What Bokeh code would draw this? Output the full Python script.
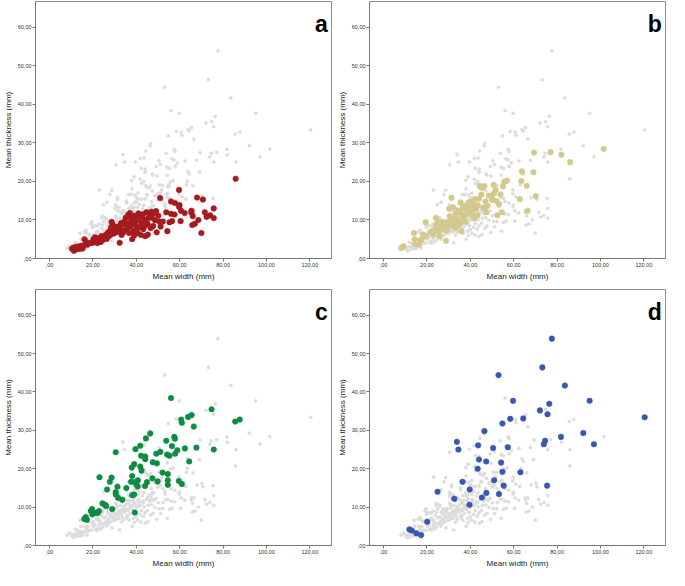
from bokeh.plotting import figure
from bokeh.layouts import gridplot
from bokeh.models import FixedTicker, Label, Range1d
from bokeh.embed import file_html
from bokeh.resources import INLINE

# ---------------- data (mean width, mean thickness in mm) ----------------
x_ticks = [0, 20, 40, 60, 80, 100, 120]
x_tick_labels = [",00", "20,00", "40,00", "60,00", "80,00", "100,00", "120,00"]
y_ticks = [0, 10, 20, 30, 40, 50, 60]
y_tick_labels = [",00", "10,00", "20,00", "30,00", "40,00", "50,00", "60,00"]

a_width = [10.3, 10.8, 11.2, 11.8, 12.5, 13.2, 14.0, 14.6, 15.2, 15.8, 16.1, 16.8, 17.5, 18.3, 19.5,
           20.2, 21.3, 22.3, 23.0, 23.6, 24.5, 25.3, 25.8, 26.4, 26.8, 27.3, 27.7, 28.2, 28.6, 28.3,
           29.1, 29.6, 30.1, 30.6, 31.2, 31.7, 32.3, 32.6, 33.2, 33.7, 34.2, 34.6, 35.1, 35.6, 36.2,
           36.2, 36.7, 37.2, 37.6, 38.1, 38.3, 38.7, 39.2, 39.6, 40.1, 40.6, 41.1, 41.6, 42.1, 42.3,
           42.6, 43.2, 43.6, 44.1, 44.6, 45.1, 45.3, 46.1, 46.6, 47.1, 47.7, 48.2, 48.6, 49.1, 49.4,
           50.1, 50.6, 51.0, 51.2, 52.2, 53.8, 54.3, 55.3, 56.0, 56.0, 56.5, 57.6, 57.8, 59.7, 59.7,
           59.9, 60.4, 60.6, 62.3, 65.4, 65.4, 65.8, 66.0, 67.0, 68.0, 68.6, 70.0, 70.7, 71.6, 72.4,
           74.0, 75.7, 75.7, 85.8, 30.5, 32.0, 34.0, 35.0, 36.0, 37.0, 38.5, 40.0, 41.0, 43.0, 45.5,
           47.0, 44.0, 39.0, 33.0, 29.0, 27.0, 24.0, 22.0, 21.0]
a_thick = [2.5, 2.8, 2.0, 3.0, 2.4, 3.1, 2.5, 3.3, 2.6, 3.4, 5.0, 4.3, 3.6, 4.0, 4.0,
           5.0, 4.2, 4.6, 5.3, 4.3, 4.8, 5.6, 6.1, 5.1, 6.6, 5.8, 7.1, 6.2, 9.5, 8.0,
           7.3, 6.5, 7.6, 6.8, 7.1, 7.9, 4.1, 8.6, 6.1, 7.3, 8.9, 9.6, 10.6, 7.6, 11.3,
           9.1, 6.6, 8.3, 10.1, 5.0, 9.4, 7.1, 11.1, 8.6, 9.9, 6.6, 10.4, 8.1, 6.1, 9.1,
           11.1, 7.6, 10.1, 5.8, 12.0, 9.1, 6.2, 11.6, 7.9, 10.6, 8.4, 11.8, 9.9, 12.3, 6.8,
           11.1, 9.6, 15.7, 8.3, 9.6, 12.0, 7.1, 9.4, 14.8, 11.6, 9.7, 11.4, 14.4, 17.8, 13.4,
           13.9, 9.7, 12.4, 11.8, 12.4, 11.9, 8.7, 11.0, 9.0, 15.8, 10.0, 6.6, 15.3, 12.0, 10.8,
           11.2, 13.0, 10.5, 20.7, 8.3, 7.0, 6.8, 9.0, 7.8, 11.8, 10.5, 7.5, 11.7, 11.5, 10.5,
           12.1, 8.5, 6.0, 9.2, 8.8, 6.2, 5.8, 4.0, 5.5]

b_width = [8.1, 9.2, 14.0, 14.3, 14.5, 16.2, 17.0, 17.7, 18.2, 19.4, 19.5, 22.2, 22.9, 24.1, 24.4,
           25.1, 25.8, 26.6, 27.3, 28.0, 28.8, 29.5, 30.3, 31.0, 31.3, 31.8, 32.0, 32.5, 33.2, 33.2,
           33.9, 34.7, 35.0, 35.5, 35.9, 36.2, 36.9, 37.7, 38.1, 38.4, 39.1, 39.9, 40.6, 40.9, 41.4,
           41.8, 42.1, 42.8, 43.3, 44.3, 44.8, 45.8, 46.5, 45.1, 46.8, 47.3, 48.0, 48.5, 49.8, 50.7,
           51.0, 51.7, 52.1, 52.4, 53.2, 53.9, 54.6, 55.1, 55.7, 56.9, 62.8, 63.5, 63.8, 66.0, 66.5,
           69.1, 69.4, 70.2, 77.0, 82.0, 86.0, 101.5, 26.0, 27.0, 28.5, 30.0, 31.0, 32.0, 33.0, 34.0,
           35.0, 36.0, 37.0, 38.0, 30.5, 29.0, 24.0, 23.0, 21.5, 25.0, 34.0, 36.5, 39.0, 41.0, 43.5,
           44.0, 47.0, 50.0, 46.0]
b_thick = [2.7, 3.2, 6.6, 5.0, 3.7, 3.6, 4.7, 5.0, 6.2, 9.4, 5.8, 7.1, 6.2, 10.5, 8.7,
           7.2, 5.8, 8.7, 9.5, 7.9, 4.6, 9.5, 12.9, 10.5, 15.8, 8.7, 13.3, 10.4, 11.6, 7.9,
           9.5, 8.7, 12.0, 14.5, 7.1, 9.5, 10.8, 13.7, 12.9, 11.6, 14.5, 14.7, 13.3, 12.0, 14.1,
           10.4, 15.4, 12.9, 11.2, 18.9, 18.5, 18.3, 18.8, 16.6, 12.9, 12.0, 13.7, 16.3, 16.2, 19.1,
           17.0, 17.8, 14.9, 11.2, 14.1, 16.6, 12.0, 18.7, 19.9, 20.2, 15.4, 20.1, 22.6, 18.9, 12.4,
           22.4, 27.5, 16.2, 27.6, 26.9, 25.0, 28.4, 7.5, 8.5, 9.0, 8.2, 9.8, 9.0, 8.5, 10.2,
           9.0, 11.5, 10.0, 9.5, 11.0, 7.3, 7.8, 6.6, 6.8, 9.6, 12.5, 13.0, 12.2, 11.3, 13.8,
           15.5, 14.8, 15.2, 13.2]

c_width = [56.0, 74.7, 65.5, 63.9, 60.7, 61.0, 85.6, 87.7, 66.5, 46.4, 44.4, 53.8, 57.5, 57.8, 67.7,
           62.4, 75.7, 56.4, 58.9, 57.9, 54.2, 55.3, 51.1, 49.2, 39.6, 41.8, 30.5, 42.2, 44.1, 44.1,
           47.6, 49.5, 64.4, 39.0, 37.9, 41.8, 42.4, 52.1, 54.5, 47.4, 38.1, 23.0, 28.6, 27.8, 37.6,
           39.3, 40.7, 44.9, 49.8, 54.5, 59.6, 61.0, 54.5, 40.1, 40.6, 44.0, 31.3, 35.4, 26.5, 30.5,
           30.5, 39.0, 38.1, 31.6, 33.5, 24.4, 25.6, 26.1, 28.9, 39.3, 19.6, 19.0, 21.0, 19.7, 22.8,
           22.2, 20.0, 16.7, 16.3, 17.2, 16.0]
c_thick = [38.4, 35.5, 34.0, 33.5, 32.8, 32.0, 32.3, 32.8, 31.0, 29.2, 27.9, 27.3, 28.3, 27.8, 25.5,
           25.3, 25.0, 25.9, 24.8, 23.9, 23.7, 23.4, 24.4, 23.9, 25.1, 26.0, 24.3, 23.4, 23.2, 22.5,
           21.7, 21.4, 21.9, 21.2, 20.3, 20.6, 19.5, 19.0, 18.6, 17.5, 18.1, 17.8, 17.7, 16.6, 16.6,
           16.5, 17.0, 16.5, 16.7, 17.0, 16.8, 16.0, 15.8, 15.8, 15.4, 15.5, 15.3, 15.0, 14.6, 13.9,
           13.3, 13.3, 13.1, 12.4, 11.9, 11.0, 10.6, 10.3, 9.5, 8.6, 9.5, 9.0, 8.5, 8.1, 9.0,
           8.5, 8.5, 7.4, 7.0, 6.7, 6.9]

d_width = [77.6, 73.2, 53.0, 83.6, 59.7, 76.4, 95.0, 72.1, 75.6, 58.4, 64.4, 120.4, 54.8, 46.5, 92.1,
           81.8, 74.5, 73.9, 97.0, 33.8, 34.5, 43.6, 50.5, 57.3, 44.0, 47.3, 54.2, 43.4, 54.8, 63.1,
           36.4, 51.0, 39.7, 55.4, 75.4, 24.9, 47.4, 53.2, 32.6, 45.3, 39.6, 20.1, 11.9, 13.0, 15.1,
           17.3]
d_thick = [53.9, 46.4, 44.4, 41.7, 37.7, 36.9, 37.7, 35.2, 34.2, 33.0, 33.1, 33.4, 31.8, 29.8, 29.3,
           28.3, 27.3, 26.4, 26.4, 27.0, 25.0, 26.1, 25.4, 25.6, 22.4, 21.9, 21.6, 20.0, 19.2, 19.1,
           16.6, 17.0, 14.6, 15.6, 15.6, 14.0, 13.7, 13.4, 12.2, 12.5, 10.6, 6.2, 4.2, 3.9, 3.2,
           2.7]

# all specimens (background cloud)
all_width = a_width + b_width + c_width + d_width
all_thick = a_thick + b_thick + c_thick + d_thick

FONT = "Liberation Sans"


def make_panel(sx, sy, color, letter, height, top):
    p = figure(width=334, height=height, output_backend="svg", toolbar_location=None,
               x_range=Range1d(-6.5, 130), y_range=Range1d(0, 66.7),
               min_border_left=26, min_border_right=3, min_border_top=top,
               min_border_bottom=20)
    p.grid.visible = False
    p.outline_line_color = "#8c8c8c"
    p.outline_line_width = 1
    p.background_fill_color = "white"
    p.border_fill_color = "white"

    for ax in (p.xaxis[0], p.yaxis[0]):
        ax.axis_line_color = "#777777"
        ax.major_tick_line_color = "#777777"
        ax.major_tick_out = 3
        ax.major_tick_in = 0
        ax.minor_tick_line_color = None
        ax.major_label_text_font = FONT
        ax.major_label_text_font_size = "5.5px"
        ax.major_label_text_color = "#333333"
        ax.major_label_standoff = 1
        ax.axis_label_text_font = FONT
        ax.axis_label_text_font_size = "8px"
        ax.axis_label_text_font_style = "normal"
        ax.axis_label_text_color = "#222222"
        ax.axis_label_standoff = 2

    p.xaxis.ticker = FixedTicker(ticks=x_ticks)
    p.yaxis.ticker = FixedTicker(ticks=y_ticks)
    p.xaxis.major_label_overrides = dict(zip(x_ticks, x_tick_labels))
    p.yaxis.major_label_overrides = dict(zip(y_ticks, y_tick_labels))
    p.xaxis.axis_label = "Mean width (mm)"
    p.yaxis.axis_label = "Mean thickness (mm)"

    p.scatter(all_width, all_thick, size=3.2, fill_color="#dcdcdc", line_color="#dcdcdc",
              line_width=0.5)
    p.scatter(sx, sy, size=5.6, fill_color=color, line_color=color, line_width=0.5)

    p.add_layout(Label(x=128.3, y=60.8, text=letter, text_align="right",
                       text_baseline="alphabetic", text_font=FONT,
                       text_font_size="23px", text_font_style="bold", text_color="black"))
    return p


pa = make_panel(a_width, a_thick, "#a51b1e", "a", 283, 1)
pb = make_panel(b_width, b_thick, "#d4c98c", "b", 283, 1)
pc = make_panel(c_width, c_thick, "#0f8c43", "c", 287, 6)
pd = make_panel(d_width, d_thick, "#3b56ae", "d", 287, 6)

grid = gridplot([[pa, pb], [pc, pd]], toolbar_location=None)

open("out.html", "w").write(file_html(grid, INLINE))
